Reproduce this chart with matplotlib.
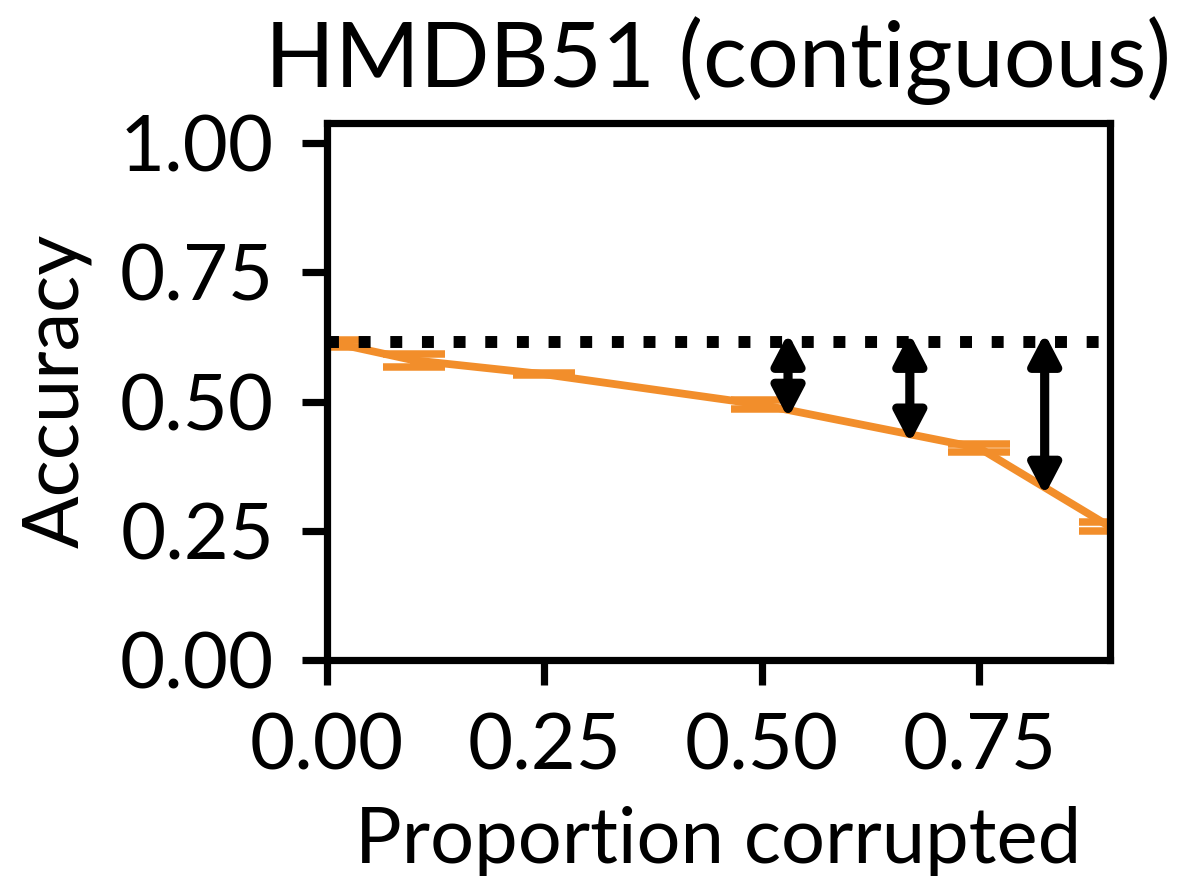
import matplotlib.pyplot as plt
import numpy as np

plt.rcParams["font.family"] = ["Lato", "DejaVu Sans"]

# values
proportion = [0.01, 0.1, 0.25, 0.5, 0.75, 0.9]
accuracy = [0.613, 0.580, 0.553, 0.494, 0.410, 0.258]
accuracy_err = [0.007, 0.013, 0.002, 0.009, 0.008, 0.009]
baseline = 0.615

gap_x = [0.53, 0.67, 0.825]
gap_top = [0.632, 0.632, 0.632]
gap_low = [0.468, 0.420, 0.319]

xticks = [0.0, 0.25, 0.5, 0.75]
yticks = [0.0, 0.25, 0.5, 0.75, 1.0]

fig = plt.figure(figsize=(6.01, 4.38), dpi=200)
ax = fig.add_axes([0.272, 0.2466, 0.6514, 0.6134])

ax.errorbar(
    proportion,
    accuracy,
    yerr=accuracy_err,
    color="#F28E2B",
    lw=2.8,
    capsize=11,
    capthick=2.7,
    zorder=2,
)
ax.axhline(baseline, color="black", ls=":", lw=4.3, zorder=3)

for x, top, low in zip(gap_x, gap_top, gap_low):
    ax.annotate(
        "",
        xy=(x, low),
        xytext=(x, top),
        arrowprops=dict(
            arrowstyle="<|-|>,head_length=0.9,head_width=0.47",
            color="black",
            lw=3.3,
            shrinkA=0,
            shrinkB=0,
        ),
        zorder=4,
    )

ax.set_xlim(0, 0.9)
ax.set_ylim(0, 1.04)
ax.set_xticks(xticks)
ax.set_yticks(yticks)
ax.set_xticklabels(["%.2f" % t for t in xticks])
ax.set_yticklabels(["%.2f" % t for t in yticks])
ax.tick_params(labelsize=28, width=2.6, length=9, pad=10)
for s in ax.spines.values():
    s.set_linewidth(2.6)

ax.set_title("HMDB51 (contiguous)", fontsize=33, pad=13)
ax.set_xlabel("Proportion corrupted", fontsize=28, labelpad=8)
ax.set_ylabel("Accuracy", fontsize=28, labelpad=10)

fig.savefig("out.png", dpi=200)
